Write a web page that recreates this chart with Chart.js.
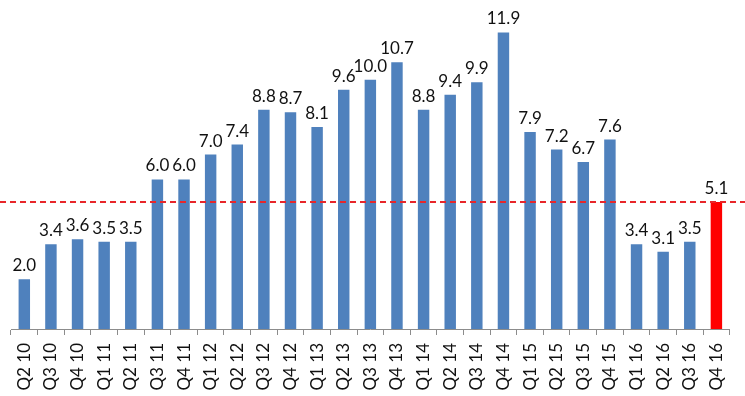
<!DOCTYPE html>
<html>
<head>
<meta charset="utf-8">
<script src="https://cdn.jsdelivr.net/npm/chart.js@4/dist/chart.umd.min.js"></script>
<style>
  html, body { margin: 0; padding: 0; background: #fff; }
  #wrap { width: 745px; height: 396px; }
</style>
</head>
<body>
<div id="wrap"><canvas id="chart"></canvas></div>
<script>
// Datos
const quarters = ['Q2 10', 'Q3 10', 'Q4 10', 'Q1 11', 'Q2 11', 'Q3 11', 'Q4 11', 'Q1 12', 'Q2 12',
  'Q3 12', 'Q4 12', 'Q1 13', 'Q2 13', 'Q3 13', 'Q4 13', 'Q1 14', 'Q2 14', 'Q3 14', 'Q4 14',
  'Q1 15', 'Q2 15', 'Q3 15', 'Q4 15', 'Q1 16', 'Q2 16', 'Q3 16', 'Q4 16'];
const values = [2.0, 3.4, 3.6, 3.5, 3.5, 6.0, 6.0, 7.0, 7.4, 8.8, 8.7, 8.1, 9.6, 10.0, 10.7,
  8.8, 9.4, 9.9, 11.9, 7.9, 7.2, 6.7, 7.6, 3.4, 3.1, 3.5, 5.1];
const refValue = 5.1;

const blue = '#4f81bd';
const red = '#ff0000';
const barColors = values.map((v, i) => i === values.length - 1 ? red : blue);

// Etiquetas encima de cada barra
const valueLabels = {
  id: 'valueLabels',
  afterDatasetsDraw(chart) {
    const c = chart.ctx;
    const meta = chart.getDatasetMeta(0);
    c.save();
    c.font = '17px Lato';
    c.fillStyle = '#111';
    c.textAlign = 'center';
    c.textBaseline = 'bottom';
    meta.data.forEach((bar, i) => {
      c.fillText(values[i].toFixed(1), bar.x, bar.y - 5);
    });
    c.restore();
  }
};

// Línea roja discontinua
const refLine = {
  id: 'refLine',
  afterDatasetsDraw(chart) {
    const c = chart.ctx;
    const y = Math.round(chart.scales.y.getPixelForValue(refValue));
    c.save();
    c.strokeStyle = '#e8262a';
    c.lineWidth = 2;
    c.setLineDash([6, 4]);
    c.beginPath();
    c.moveTo(0, y);
    c.lineTo(chart.width, y);
    c.stroke();
    c.restore();
  }
};

const ctx = document.getElementById('chart').getContext('2d');
const chart = new Chart(ctx, {
  type: 'bar',
  data: {
    labels: quarters,
    datasets: [{
      data: values,
      backgroundColor: barColors,
      borderWidth: 0,
      categoryPercentage: 1,
      barPercentage: 0.43
    }]
  },
  options: {
    responsive: true,
    maintainAspectRatio: false,
    animation: false,
    layout: { padding: { top: 5, left: 11, right: 11, bottom: 0 } },
    plugins: {
      legend: { display: false },
      tooltip: { enabled: false }
    },
    scales: {
      y: { display: false, min: 0, max: 13 },
      x: {
        afterFit: s => { s.height = 67; },
        border: { color: '#8c8c8c', width: 1 },
        grid: {
          offset: true,
          drawOnChartArea: false,
          tickLength: 6,
          color: '#8c8c8c'
        },
        ticks: {
          autoSkip: false,
          maxRotation: 90,
          minRotation: 90,
          padding: 8,
          color: '#111',
          font: { family: 'Lato', size: 17 }
        }
      }
    }
  },
  plugins: [valueLabels, refLine]
});
</script>
</body>
</html>
